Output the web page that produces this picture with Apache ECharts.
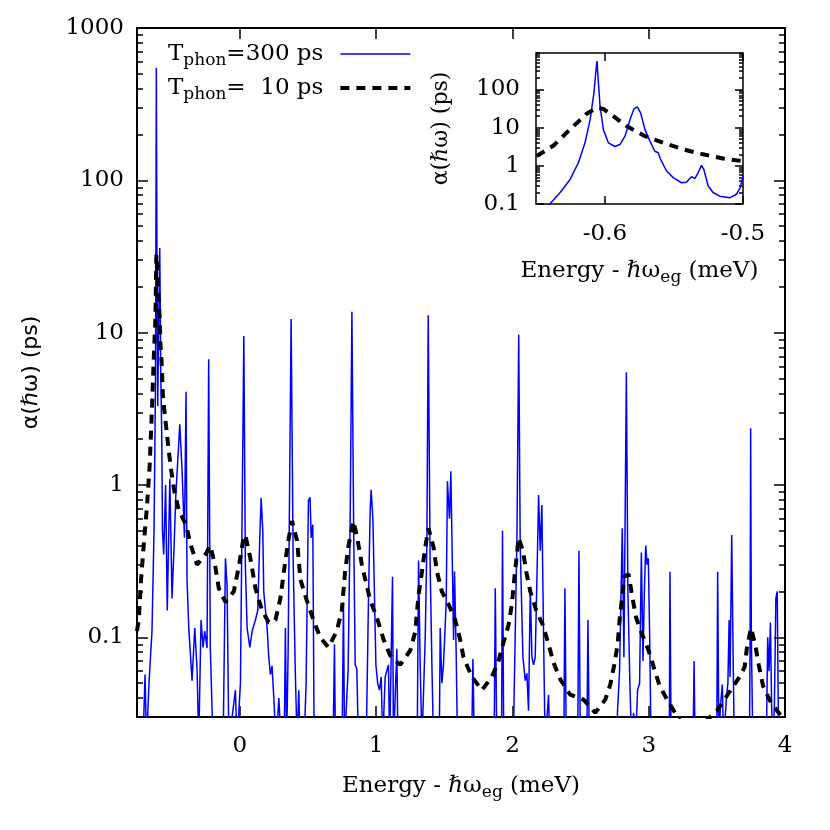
<!DOCTYPE html>
<html>
<head>
<meta charset="utf-8">
<script src="https://cdn.jsdelivr.net/npm/echarts@6/dist/echarts.min.js"></script>
<style>
  html, body { margin: 0; background: #fff; }
  #chart { width: 830px; height: 830px; }
</style>
</head>
<body>
<div id="chart"></div>
<script>
// T_phon = 300 ps, main panel: [energy (meV), alpha (ps)]
const main300 = [
  [-0.755,0.02],[-0.711,0.02],[-0.696,0.057],[-0.685,0.02],[-0.667,0.05],[-0.645,0.11],
  [-0.630,0.5],[-0.619,5],[-0.613,548],[-0.608,20],[-0.603,3.3],[-0.598,8],[-0.588,36],
  [-0.580,5],[-0.573,2.0],[-0.568,0.5],[-0.559,0.35],[-0.545,1.0],[-0.533,0.15],[-0.514,1.1],
  [-0.498,0.18],[-0.484,0.37],[-0.470,0.86],[-0.441,2.5],[-0.424,1.23],[-0.407,0.45],
  [-0.395,4.1],[-0.388,0.24],[-0.375,0.115],[-0.351,0.052],[-0.331,0.115],[-0.314,0.061],
  [-0.302,0.02],[-0.285,0.13],[-0.270,0.086],[-0.258,0.11],[-0.241,0.085],[-0.229,6.7],
  [-0.217,0.085],[-0.197,0.02],[-0.123,0.02],[-0.106,0.33],[-0.094,0.22],[-0.081,0.02],
  [-0.033,0.045],[-0.021,0.02],[0.004,0.05],[0.029,9.5],[0.040,0.3],[0.053,0.115],
  [0.073,0.086],[0.090,0.11],[0.114,0.13],[0.131,0.15],[0.146,0.45],[0.156,0.82],
  [0.168,0.5],[0.175,0.2],[0.200,0.115],[0.212,0.074],[0.224,0.057],[0.236,0.065],
  [0.249,0.04],[0.266,0.02],[0.286,0.04],[0.302,0.02],[0.325,0.02],[0.334,0.115],
  [0.343,0.02],[0.354,0.08],[0.376,12.3],[0.391,0.32],[0.407,0.057],[0.420,0.02],
  [0.432,0.045],[0.442,0.02],[0.471,0.02],[0.486,0.05],[0.503,0.79],[0.515,0.83],
  [0.523,0.45],[0.535,0.55],[0.545,0.02],[0.684,0.02],[0.694,0.09],[0.701,0.02],
  [0.750,0.02],[0.760,0.17],[0.768,0.02],[0.794,0.06],[0.809,0.55],[0.822,13.7],
  [0.835,0.5],[0.846,0.066],[0.858,0.062],[0.870,0.02],[0.927,0.02],[0.943,0.165],
  [0.956,0.68],[0.963,0.93],[0.976,0.6],[0.985,0.61],[0.998,0.066],[1.011,0.05],
  [1.024,0.045],[1.037,0.055],[1.048,0.02],[1.066,0.055],[1.090,0.066],[1.099,0.02],
  [1.120,0.25],[1.127,0.02],[1.152,0.084],[1.159,0.02],[1.301,0.02],[1.311,0.32],
  [1.323,0.066],[1.336,0.02],[1.360,0.1],[1.372,0.4],[1.382,13.0],[1.396,0.3],
  [1.409,0.066],[1.421,0.02],[1.463,0.02],[1.470,0.115],[1.482,0.05],[1.494,0.066],
  [1.514,0.17],[1.523,1.06],[1.538,0.6],[1.548,1.23],[1.556,0.45],[1.568,0.096],
  [1.575,0.27],[1.587,0.08],[1.597,0.02],[1.701,0.02],[1.710,0.072],[1.720,0.02],
  [1.866,0.02],[1.874,0.21],[1.885,0.02],[1.920,0.02],[1.927,0.5],[1.936,0.02],
  [2.006,0.02],[2.033,0.45],[2.046,9.7],[2.057,0.4],[2.077,0.074],[2.094,0.052],
  [2.106,0.058],[2.118,0.033],[2.131,0.21],[2.143,0.074],[2.155,0.066],[2.167,0.074],
  [2.180,0.25],[2.192,0.86],[2.204,0.37],[2.216,0.74],[2.224,0.2],[2.233,0.052],
  [2.240,0.02],[2.265,0.042],[2.274,0.02],[2.377,0.02],[2.385,0.21],[2.395,0.02],
  [2.479,0.02],[2.488,0.37],[2.498,0.02],[2.546,0.02],[2.554,0.13],[2.564,0.02],
  [2.762,0.02],[2.772,0.034],[2.786,0.06],[2.806,0.52],[2.818,0.074],[2.836,5.5],
  [2.847,0.2],[2.862,0.049],[2.874,0.02],[2.889,0.032],[2.904,0.02],[2.918,0.045],
  [2.933,0.05],[2.946,0.36],[2.958,0.07],[2.968,0.2],[2.978,0.4],[2.988,0.3],
  [2.997,0.33],[3.007,0.1],[3.017,0.02],[3.151,0.02],[3.156,0.27],[3.164,0.02],
  [3.325,0.02],[3.333,0.07],[3.340,0.02],[3.499,0.02],[3.506,0.27],[3.515,0.02],
  [3.526,0.035],[3.540,0.049],[3.550,0.02],[3.570,0.04],[3.581,0.05],[3.590,0.13],
  [3.597,0.055],[3.609,0.47],[3.619,0.08],[3.628,0.02],[3.739,0.02],[3.744,0.1],
  [3.748,2.36],[3.753,0.1],[3.764,0.02],[3.863,0.02],[3.873,0.1],[3.883,0.06],
  [3.893,0.125],[3.902,0.035],[3.911,0.02],[3.922,0.035],[3.933,0.18],[3.943,0.2],
  [3.953,0.02],[4.003,0.02]
];

// T_phon = 10 ps, main panel
const main10 = [
  [-0.755,0.11],[-0.742,0.13],[-0.725,0.24],[-0.706,0.40],[-0.681,0.74],[-0.662,1.35],
  [-0.645,3.2],[-0.632,6.8],[-0.620,12.3],[-0.613,32.6],[-0.603,23.5],[-0.596,16.6],
  [-0.587,11.8],[-0.584,8.7],[-0.575,6.5],[-0.564,3.7],[-0.540,2.36],[-0.522,1.67],
  [-0.503,1.23],[-0.481,0.91],[-0.449,0.69],[-0.393,0.54],[-0.363,0.41],[-0.314,0.3],
  [-0.253,0.35],[-0.217,0.4],[-0.180,0.29],[-0.155,0.21],[-0.106,0.17],[-0.045,0.2],
  [-0.008,0.29],[0.023,0.43],[0.040,0.47],[0.077,0.33],[0.114,0.21],[0.163,0.15],
  [0.212,0.125],[0.261,0.13],[0.297,0.18],[0.334,0.32],[0.359,0.45],[0.383,0.58],
  [0.420,0.43],[0.444,0.24],[0.491,0.175],[0.540,0.13],[0.589,0.1],[0.650,0.086],
  [0.711,0.11],[0.748,0.15],[0.772,0.27],[0.797,0.4],[0.833,0.58],[0.861,0.45],
  [0.895,0.3],[0.956,0.175],[1.005,0.135],[1.054,0.097],[1.103,0.076],[1.176,0.066],
  [1.250,0.082],[1.286,0.108],[1.311,0.19],[1.336,0.27],[1.360,0.39],[1.384,0.52],
  [1.421,0.39],[1.446,0.27],[1.482,0.2],[1.531,0.165],[1.580,0.13],[1.617,0.096],
  [1.641,0.074],[1.703,0.055],[1.776,0.045],[1.849,0.055],[1.898,0.07],[1.935,0.093],
  [1.971,0.12],[1.996,0.165],[2.013,0.24],[2.028,0.32],[2.045,0.45],[2.077,0.37],
  [2.101,0.27],[2.131,0.2],[2.175,0.15],[2.224,0.12],[2.265,0.09],[2.302,0.068],
  [2.351,0.053],[2.424,0.042],[2.522,0.039],[2.608,0.032],[2.681,0.039],[2.718,0.049],
  [2.747,0.066],[2.772,0.09],[2.786,0.13],[2.804,0.18],[2.821,0.25],[2.852,0.26],
  [2.877,0.19],[2.907,0.135],[2.951,0.105],[2.999,0.082],[3.036,0.064],[3.080,0.048],
  [3.142,0.038],[3.232,0.028],[3.320,0.025],[3.416,0.028],[3.501,0.033],[3.579,0.042],
  [3.667,0.055],[3.704,0.064],[3.721,0.086],[3.751,0.115],[3.783,0.088],[3.807,0.066],
  [3.839,0.048],[3.893,0.038],[3.942,0.033],[4.003,0.028]
];

// inset, zoom on the lowest line
const inset300 = [
  [-0.652,0.05],[-0.640,0.1],[-0.6325,0.2],[-0.6253,0.44],[-0.6193,1.2],[-0.6145,4.0],
  [-0.6108,16],[-0.608,82],[-0.6065,333],[-0.6058,550],[-0.6051,224],[-0.6036,37],
  [-0.6012,9],[-0.5976,4],[-0.5928,3.2],[-0.5892,3.6],[-0.5855,6],[-0.5819,16],
  [-0.579,31],[-0.5766,35],[-0.5742,24.5],[-0.5711,9],[-0.5675,4.5],[-0.5639,2.4],
  [-0.5614,2.2],[-0.5598,1.5],[-0.5554,0.73],[-0.5506,0.49],[-0.5446,0.36],[-0.541,0.37],
  [-0.5373,0.52],[-0.5349,0.46],[-0.5325,0.66],[-0.5301,1.03],[-0.5284,0.81],[-0.5253,0.3],
  [-0.5217,0.2],[-0.5169,0.16],[-0.5096,0.145],[-0.5048,0.18],[-0.502,0.27],[-0.5,0.54]
];
const inset10 = [
  [-0.6494,1.8],[-0.6373,3.4],[-0.6253,9],[-0.6133,23],[-0.606,33],[-0.6012,31],
  [-0.594,20],[-0.5843,11],[-0.5723,6.3],[-0.5578,4],[-0.5434,2.7],[-0.5289,2.0],
  [-0.5145,1.55],[-0.5012,1.34],[-0.5,1.32]
];

const mainXTicks = [0, 1, 2, 3, 4];
const insetXTicks = [-0.6, -0.5];
const logMajor = [0.1, 1, 10, 100, 1000];
const logMinor = [];
[0.01, 0.1, 1, 10, 100].forEach(d => {
  for (let k = 2; k <= 9; k++) logMinor.push(+(k * d).toPrecision(3));
});

const SERIF = 'DejaVu Serif';
const FS = 23;
const fmt = v => String(+(+v).toPrecision(6));
const subRich = {
  sub: { fontFamily: SERIF, fontSize: 17, color: '#000', lineHeight: 18, padding: [13, 0, 0, 0] }
};
const legendText = {
  'Tphon=300 ps': 'T{sub|phon}=300 ps',
  'Tphon=10 ps': 'T{sub|phon}=  10 ps'
};

function xAxisPair(grid, min, max, ticks, tickLen, name, gap, margin) {
  const base = {
    type: 'value', gridIndex: grid, min: min, max: max,
    axisLine: { show: false, onZero: false }, splitLine: { show: false },
    axisTick: { inside: true, length: tickLen, customValues: ticks, lineStyle: { color: '#000', width: 1.5 } }
  };
  return [
    Object.assign({}, base, {
      position: 'bottom',
      axisLabel: { customValues: ticks, formatter: fmt, fontFamily: SERIF, fontSize: FS, color: '#000', margin: margin },
      name: name, nameLocation: 'middle', nameGap: gap,
      nameTextStyle: { fontFamily: SERIF, fontSize: FS, color: '#000', rich: subRich }
    }),
    Object.assign({}, base, { position: 'top', axisLabel: { show: false } })
  ];
}

function yAxisSet(grid, min, max, majLen, minLen, nameGap) {
  const base = {
    type: 'log', logBase: 10, gridIndex: grid, min: min, max: max,
    axisLine: { show: false, onZero: false }, splitLine: { show: false }, minorTick: { show: false }
  };
  const tick = (vals, len) => ({ inside: true, length: len, customValues: vals, lineStyle: { color: '#000', width: 1.5 } });
  return [
    Object.assign({}, base, {
      position: 'left', axisTick: tick(logMajor, majLen),
      axisLabel: { customValues: logMajor, formatter: fmt, fontFamily: SERIF, fontSize: FS, color: '#000', margin: grid === 0 ? 13 : 16 },
      name: 'α(ℏω) (ps)', nameLocation: 'middle', nameGap: nameGap, nameRotate: 90,
      nameTextStyle: { fontFamily: grid === 0 ? 'DejaVu Sans' : SERIF, fontSize: FS - 1, color: '#000' }
    }),
    Object.assign({}, base, { position: 'left', axisTick: tick(logMinor, minLen), axisLabel: { show: false } }),
    Object.assign({}, base, { position: 'right', axisTick: tick(logMajor, majLen), axisLabel: { show: false } }),
    Object.assign({}, base, { position: 'right', axisTick: tick(logMinor, minLen), axisLabel: { show: false } })
  ];
}

const xName = 'Energy - ℏω{sub|eg} (meV)';
const blue = { color: '#0000ff', width: 1.5 };
const dash = { color: '#000', width: 4, type: [9, 7] };

const chart = echarts.init(document.getElementById('chart'));
chart.setOption({
  animation: false,
  backgroundColor: '#fff',
  grid: [
    { left: 137, top: 28, width: 648, height: 689, show: true, borderColor: '#000', borderWidth: 2, backgroundColor: 'transparent' },
    { left: 536, top: 53, width: 207, height: 151, show: true, borderColor: '#000', borderWidth: 1.5, backgroundColor: '#fff' }
  ],
  xAxis: [].concat(
    xAxisPair(0, -0.755, 4, mainXTicks, 11, xName, 58, 18),
    xAxisPair(1, -0.65, -0.5, insetXTicks, 8, xName, 56, 19)
  ),
  yAxis: [].concat(
    yAxisSet(0, 0.03, 1000, 11, 6, 95),
    yAxisSet(1, 0.1, 900, 8, 4, 84)
  ),
  legend: {
    data: ['Tphon=300 ps', 'Tphon=10 ps'],
    orient: 'vertical', align: 'right', left: 168, top: 39, padding: 0,
    itemWidth: 70, itemHeight: 20, itemGap: 4,
    formatter: name => legendText[name],
    itemStyle: { opacity: 0 },
    lineStyle: { width: 'inherit' },
    textStyle: { fontFamily: SERIF, fontSize: FS, color: '#000', padding: [0, 12, 0, 0], rich: subRich }
  },
  series: [
    { name: 'Tphon=300 ps', type: 'line', xAxisIndex: 0, yAxisIndex: 0, data: main300,
      symbol: 'none', color: '#0000ff', lineStyle: blue, clip: true, z: 3 },
    { name: 'Tphon=10 ps', type: 'line', xAxisIndex: 0, yAxisIndex: 0, data: main10,
      symbol: 'none', color: '#000', lineStyle: dash, clip: true, z: 4 },
    { name: 'inset 300', type: 'line', xAxisIndex: 2, yAxisIndex: 4, data: inset300,
      symbol: 'none', color: '#0000ff', lineStyle: blue, clip: true, z: 3 },
    { name: 'inset 10', type: 'line', xAxisIndex: 2, yAxisIndex: 4, data: inset10,
      symbol: 'none', color: '#000', lineStyle: dash, clip: true, z: 4 }
  ]
});
</script>
</body>
</html>
